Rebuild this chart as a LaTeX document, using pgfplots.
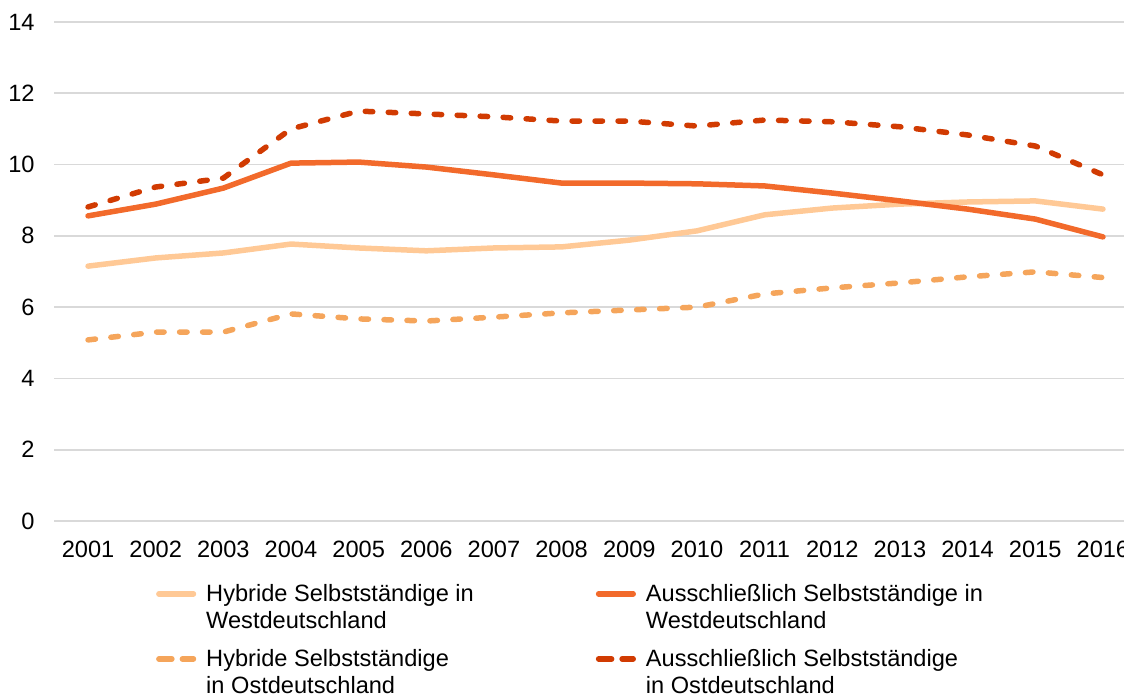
\documentclass[border=0pt]{standalone}
\usepackage{fontspec}
\setmainfont{Liberation Sans}
\usepackage{pgfplots}
\pgfplotsset{compat=1.18}
\definecolor{cHW}{HTML}{FFC996}
\definecolor{cAW}{HTML}{F26A2B}
\definecolor{cHO}{HTML}{F5A55B}
\definecolor{cAO}{HTML}{D13B02}
\definecolor{gridc}{HTML}{D9D9D9}
\begin{document}
\begin{tikzpicture}
\begin{axis}[
  at={(27.1pt,86.5pt)}, anchor=south west,
  scale only axis, width=541.3pt, height=249.5pt,
  xmin=2000.5, xmax=2016.5, ymin=0, ymax=14,
  xtick={2001,...,2016}, ytick={0,2,...,14},
  /pgf/number format/1000 sep={},
  /pgf/number format/assume math mode=true,
  major tick length=0pt,
  axis line style={draw=none},
  ymajorgrids, grid style={gridc, line width=0.8pt},
  tick label style={font=\fontsize{11.8}{14}\selectfont},
  yticklabel style={anchor=east, inner sep=0pt, xshift=-9.6pt},
  xticklabel style={anchor=north, inner sep=0pt, yshift=-10pt},
  clip=false,
  legend columns=2,
  legend cell align=left,
  legend image code/.code={\draw[#1] (0pt,7pt) -- (17.3pt,7pt);},
  legend style={at={(0.0938,-0.118)}, anchor=north west, draw=none, fill=none,
    inner sep=0pt, align=left,
    font=\fontsize{11.8}{13.5}\selectfont,
    /tikz/every odd column/.append style={column sep=3pt},
    /tikz/every even column/.append style={column sep=59pt},
    row sep=5pt},
  every axis plot/.append style={line width=2.75pt, line cap=round, line join=round},
]
\addplot[cHW] coordinates {(2001,7.15)(2002,7.38)(2003,7.52)(2004,7.77)(2005,7.66)(2006,7.58)(2007,7.66)(2008,7.69)(2009,7.88)(2010,8.14)(2011,8.59)(2012,8.78)(2013,8.89)(2014,8.95)(2015,8.98)(2016,8.75)};
\addlegendentry{Hybride Selbstständige in\\Westdeutschland}
\addplot[cAW] coordinates {(2001,8.56)(2002,8.89)(2003,9.34)(2004,10.04)(2005,10.07)(2006,9.93)(2007,9.71)(2008,9.48)(2009,9.48)(2010,9.46)(2011,9.40)(2012,9.20)(2013,8.98)(2014,8.75)(2015,8.47)(2016,7.97)};
\addlegendentry{Ausschließlich Selbstständige in\\Westdeutschland}
\addplot[cHO, dash pattern=on 3.75pt off 7.75pt, legend image post style={dash pattern=on 6.5pt off 5.25pt}] coordinates {(2001,5.08)(2002,5.30)(2003,5.30)(2004,5.81)(2005,5.67)(2006,5.61)(2007,5.72)(2008,5.84)(2009,5.92)(2010,6.00)(2011,6.37)(2012,6.54)(2013,6.68)(2014,6.85)(2015,6.99)(2016,6.83)};
\addlegendentry{Hybride Selbstständige\\in Ostdeutschland}
\addplot[cAO, dash pattern=on 3.75pt off 7.75pt, legend image post style={dash pattern=on 6.5pt off 5.25pt}] coordinates {(2001,8.81)(2002,9.37)(2003,9.62)(2004,11.0)(2005,11.50)(2006,11.42)(2007,11.34)(2008,11.22)(2009,11.22)(2010,11.08)(2011,11.25)(2012,11.20)(2013,11.06)(2014,10.83)(2015,10.52)(2016,9.71)};
\addlegendentry{Ausschließlich Selbstständige\\in Ostdeutschland}
\end{axis}
\pgfresetboundingbox
\useasboundingbox (0pt,0pt) rectangle (562pt,347pt);
\end{tikzpicture}
\end{document}
